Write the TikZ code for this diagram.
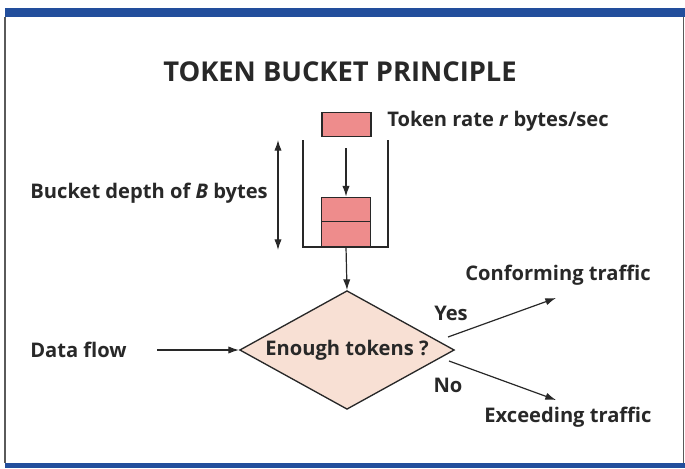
\documentclass[tikz,border=0pt]{standalone}
\usepackage{fontspec}
\setmainfont{Open Sans}[BoldFont={Open Sans Bold}]
\usetikzlibrary{arrows.meta,shapes}

\definecolor{barblue}{RGB}{34,78,156}
\definecolor{framegray}{RGB}{90,90,90}
\definecolor{tokenred}{RGB}{238,140,140}
\definecolor{diamondpink}{RGB}{248,224,212}
\definecolor{inkgray}{RGB}{40,40,40}

\tikzset{
  token/.style={draw=inkgray,fill=tokenred,line width=0.9pt,inner sep=0pt,
    minimum width=36.75pt,minimum height=18.5pt},
  decision/.style={diamond,draw=inkgray,fill=diamondpink,line width=1pt,
    inner sep=0pt,minimum width=161pt,minimum height=89pt},
  lbl/.style={font=\bfseries\fontsize{15.1}{18}\selectfont,text=inkgray,inner sep=0pt},
  flow/.style={-{Latex[length=8pt,width=5.5pt]},line width=0.9pt,draw=inkgray},
}

\begin{document}
\begin{tikzpicture}[x=0.75pt,y=-0.75pt]
\useasboundingbox (0,0) rectangle (685,468);
% frame
\fill[barblue] (5,8) rectangle (685,17);
\fill[barblue] (5,463) rectangle (685,468);
\draw[framegray,line width=0.8pt] (5,17) -- (5,463);
\draw[framegray,line width=0.6pt] (683,17) -- (683,463);
\node[font=\bfseries\fontsize{20.5}{24}\selectfont,text=inkgray] at (340,72) (title) {TOKEN BUCKET PRINCIPLE};
% bucket
\node[token] at (346.5,124.5) (newtok) {};
\node[token] at (346,209.5) (tok1) {};
\node[token] at (346,234) (tok2) {};
\draw[inkgray,line width=1.1pt] (303,140) -- (303,247) -- (388,247) -- (388,140);
\coordinate (outlet) at (346,247);
\coordinate (droptop) at (346,148);
\draw[flow] (droptop) -- (tok1);
\node[lbl,anchor=west] at (387,121) (rate) {Token rate \textit{r} bytes/sec};
\node[lbl,anchor=east] at (268,193) (depth) {Bucket depth of \textit{B} bytes};
\coordinate (dtop) at (278,140);
\coordinate (dbot) at (278,250);
\draw[flow,{Latex[length=8pt,width=5.5pt]}-{Latex[length=8pt,width=5.5pt]}] (dtop) -- (dbot);
% decision
\node[decision] at (347,350) (check) {};
\node[lbl] at (check) (asks) {Enough tokens ?};
\draw[flow] (outlet) -- (check.north);
\node[lbl,anchor=west] at (30,350) (data) {Data flow};
\draw[flow] (157,350) -- (check.west);
\coordinate (yesfrom) at (448,337);
\coordinate (nofrom) at (449,361);
\coordinate (conf) at (556,298);
\coordinate (exc) at (556,400);
\draw[flow] (yesfrom) -- (conf);
\draw[flow] (nofrom) -- (exc);
\node[lbl] at (451,313) (yes) {Yes};
\node[lbl] at (448,385) (no) {No};
\node[lbl] at (558,275) (conforming) {Conforming traffic};
\node[lbl] at (568,417) (exceeding) {Exceeding traffic};
\end{tikzpicture}
\end{document}
